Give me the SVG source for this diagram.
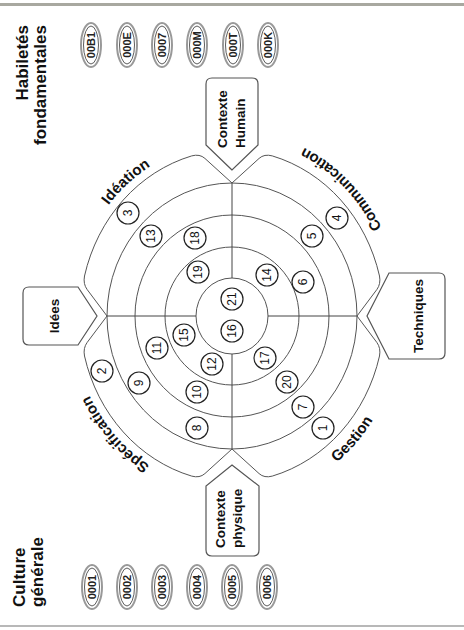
<svg xmlns="http://www.w3.org/2000/svg" width="464" height="630" viewBox="0 0 464 630">
<style>
  .ring{fill:none;stroke:#555;stroke-width:1}
  .axis{fill:none;stroke:#444;stroke-width:1}
  .lobe{fill:none;stroke:#555;stroke-width:1}
  .box{fill:#fff;stroke:#555;stroke-width:1.2}
  .mk circle{fill:#fff;stroke:#222;stroke-width:1.2}
  .mk text{font-family:"Liberation Sans",Arial,sans-serif;font-size:12px;fill:#111;text-anchor:middle}
  .ov .o{fill:#fff;stroke:#999;stroke-width:2}
  .ov .i{fill:none;stroke:#333;stroke-width:0.8}
  .ov text{font-family:"Liberation Sans",Arial,sans-serif;font-size:11px;font-weight:bold;fill:#222;text-anchor:middle}
  .hd{font-family:"Liberation Sans",Arial,sans-serif;font-size:17px;font-weight:bold;fill:#111}
  .bl{font-family:"Liberation Sans",Arial,sans-serif;font-size:13.5px;font-weight:bold;fill:#111}
  .lb{font-family:"Liberation Sans",Arial,sans-serif;font-size:15px;font-weight:bold;fill:#111}
</style>
<defs>
  <path id="pIdeation" d="M373.5,81.6 A174,160 0 0 1 485.4,204.2"/>
  <path id="pSpec" d="M147.1,186.6 A174,160 0 0 1 273.4,76.4"/>
  <path id="pComm" d="M368.4,394.6 A186,170 0 0 0 495.2,270.2"/>
  <path id="pGest" d="M135.6,280 A186,170 0 0 0 270.3,397.3"/>
</defs>
<rect x="0" y="0" width="464" height="630" fill="#fff"/>
<rect x="0" y="3" width="464" height="3" fill="#a8a8a0"/>
<rect x="0" y="625" width="464" height="2" fill="#b8b8b8"/>
<g transform="translate(0,630) rotate(-90)">
  <g id="wheel">
    <path class="lobe" d="M314,107 L340.4,87.2 Q346,83 354,84.5 A166,152 0 0 1 474.1,191.7 Q476.3,199.7 471.6,204.9 L447,232 L471.6,259.1 Q476.3,264.3 474.1,272.3 A166,152 0 0 1 354,379.5 Q346,381 340.4,376.8 L314,357 L287.6,376.8 Q282,381 274,379.5 A166,152 0 0 1 153.9,272.3 Q151.7,264.3 156.4,259.1 L181,232 L156.4,204.9 Q151.7,199.7 153.9,191.7 A166,152 0 0 1 274,84.5 Q282,83 287.6,87.2 Z"/>
    <ellipse class="ring" cx="314" cy="232" rx="133" ry="125"/>
    <ellipse class="ring" cx="314" cy="232" rx="101" ry="97"/>
    <ellipse class="ring" cx="314" cy="232" rx="69" ry="67"/>
    <ellipse class="ring" cx="314" cy="232" rx="38" ry="36"/>
  </g>
  <g id="connectors">
    <line class="axis" x1="181" y1="232" x2="276" y2="232"/>
    <line class="axis" x1="352" y1="232" x2="447" y2="232"/>
    <line class="axis" x1="314" y1="107" x2="314" y2="196"/>
    <line class="axis" x1="314" y1="268" x2="314" y2="357"/>
  </g>
  <g id="lobe-labels">
    <text class="lb"><textPath href="#pIdeation" startOffset="50%" text-anchor="middle">Idéation</textPath></text>
    <text class="lb"><textPath href="#pSpec" startOffset="50%" text-anchor="middle">Spécification</textPath></text>
    <text class="lb"><textPath href="#pComm" startOffset="50%" text-anchor="middle">Communication</textPath></text>
    <text class="lb"><textPath href="#pGest" startOffset="50%" text-anchor="middle">Gestion</textPath></text>
  </g>
  <g id="box-idees">
    <path class="box" d="M291,23 H337 Q343,23 343,29 V78 L314,97 L285,78 V29 Q285,23 291,23 Z"/>
    <text class="bl" x="314" y="59" text-anchor="middle">Idées</text>
  </g>
  <g id="box-techniques">
    <path class="box" d="M271,389 L314,367 L357,389 V439 Q357,445 351,445 H277 Q271,445 271,439 Z"/>
    <text class="bl" x="314" y="423" text-anchor="middle">Techniques</text>
  </g>
  <g id="box-contexte-humain">
    <path class="box" d="M460,232 L485,206 H546 Q552,206 552,212 V252 Q552,258 546,258 H485 Z"/>
    <text class="bl" x="482" y="227">Contexte</text>
    <text class="bl" x="482" y="245">Humain</text>
  </g>
  <g id="box-contexte-physique">
    <path class="box" d="M165,232 L144,259 H80 Q74,259 74,253 V212 Q74,206 80,206 H144 Z"/>
    <text class="bl" x="82" y="225">Contexte</text>
    <text class="bl" x="82" y="242">physique</text>
  </g>
  <g id="markers" class="mk">
    <g id="m1"><circle cx="202" cy="323" r="11"/><text x="202" y="327">1</text></g>
    <g id="m2"><circle cx="259" cy="102" r="11"/><text x="259" y="106">2</text></g>
    <g id="m3"><circle cx="417" cy="128" r="11"/><text x="417" y="132">3</text></g>
    <g id="m4"><circle cx="412" cy="337" r="11"/><text x="412" y="341">4</text></g>
    <g id="m5"><circle cx="394" cy="312" r="11"/><text x="394" y="316">5</text></g>
    <g id="m6"><circle cx="348" cy="303" r="11"/><text x="348" y="307">6</text></g>
    <g id="m7"><circle cx="223" cy="303" r="11"/><text x="223" y="307">7</text></g>
    <g id="m8"><circle cx="202" cy="197" r="11"/><text x="202" y="201">8</text></g>
    <g id="m9"><circle cx="247" cy="139" r="11"/><text x="247" y="143">9</text></g>
    <g id="m10"><circle cx="238" cy="197" r="11"/><text x="238" y="201">10</text></g>
    <g id="m11"><circle cx="282" cy="157" r="11"/><text x="282" y="161">11</text></g>
    <g id="m12"><circle cx="266" cy="212" r="11"/><text x="266" y="216">12</text></g>
    <g id="m13"><circle cx="394" cy="151" r="11"/><text x="394" y="155">13</text></g>
    <g id="m14"><circle cx="355" cy="267" r="11"/><text x="355" y="271">14</text></g>
    <g id="m15"><circle cx="295" cy="184" r="11"/><text x="295" y="188">15</text></g>
    <g id="m16"><circle cx="299" cy="232" r="11"/><text x="299" y="236">16</text></g>
    <g id="m17"><circle cx="272" cy="265" r="11"/><text x="272" y="269">17</text></g>
    <g id="m18"><circle cx="392" cy="195" r="11"/><text x="392" y="199">18</text></g>
    <g id="m19"><circle cx="358" cy="198" r="11"/><text x="358" y="202">19</text></g>
    <g id="m20"><circle cx="248" cy="287" r="11"/><text x="248" y="291">20</text></g>
    <g id="m21"><circle cx="331" cy="232" r="11"/><text x="331" y="236">21</text></g>
  </g>
  <g id="culture-generale">
    <text class="hd" x="23" y="25">Culture</text>
    <text class="hd" x="23" y="43">générale</text>
  </g>
  <g id="habiletes-fondamentales">
    <text class="hd" x="605" y="28" text-anchor="end">Habiletés</text>
    <text class="hd" x="605" y="46" text-anchor="end">fondamentales</text>
  </g>
  <g id="ovals-culture" class="ov">
    <g id="o0001"><ellipse class="o" cx="43" cy="92" rx="22" ry="10"/><ellipse class="i" cx="43" cy="92" rx="19" ry="7.5"/><text x="43" y="96">0001</text></g>
    <g id="o0002"><ellipse class="o" cx="43" cy="127" rx="22" ry="10"/><ellipse class="i" cx="43" cy="127" rx="19" ry="7.5"/><text x="43" y="131">0002</text></g>
    <g id="o0003"><ellipse class="o" cx="43" cy="162" rx="22" ry="10"/><ellipse class="i" cx="43" cy="162" rx="19" ry="7.5"/><text x="43" y="166">0003</text></g>
    <g id="o0004"><ellipse class="o" cx="43" cy="197" rx="22" ry="10"/><ellipse class="i" cx="43" cy="197" rx="19" ry="7.5"/><text x="43" y="201">0004</text></g>
    <g id="o0005"><ellipse class="o" cx="43" cy="232" rx="22" ry="10"/><ellipse class="i" cx="43" cy="232" rx="19" ry="7.5"/><text x="43" y="236">0005</text></g>
    <g id="o0006"><ellipse class="o" cx="43" cy="267" rx="22" ry="10"/><ellipse class="i" cx="43" cy="267" rx="19" ry="7.5"/><text x="43" y="271">0006</text></g>
  </g>
  <g id="ovals-habiletes" class="ov">
    <g id="o00B1"><ellipse class="o" cx="585" cy="91" rx="22" ry="10"/><ellipse class="i" cx="585" cy="91" rx="19" ry="7.5"/><text x="585" y="95">00B1</text></g>
    <g id="o000E"><ellipse class="o" cx="585" cy="127" rx="22" ry="10"/><ellipse class="i" cx="585" cy="127" rx="19" ry="7.5"/><text x="585" y="131">000E</text></g>
    <g id="o0007"><ellipse class="o" cx="585" cy="162" rx="22" ry="10"/><ellipse class="i" cx="585" cy="162" rx="19" ry="7.5"/><text x="585" y="166">0007</text></g>
    <g id="o000M"><ellipse class="o" cx="585" cy="197" rx="22" ry="10"/><ellipse class="i" cx="585" cy="197" rx="19" ry="7.5"/><text x="585" y="201">000M</text></g>
    <g id="o000T"><ellipse class="o" cx="585" cy="233" rx="22" ry="10"/><ellipse class="i" cx="585" cy="233" rx="19" ry="7.5"/><text x="585" y="237">000T</text></g>
    <g id="o000K"><ellipse class="o" cx="585" cy="268" rx="22" ry="10"/><ellipse class="i" cx="585" cy="268" rx="19" ry="7.5"/><text x="585" y="272">000K</text></g>
  </g>
</g>
</svg>
